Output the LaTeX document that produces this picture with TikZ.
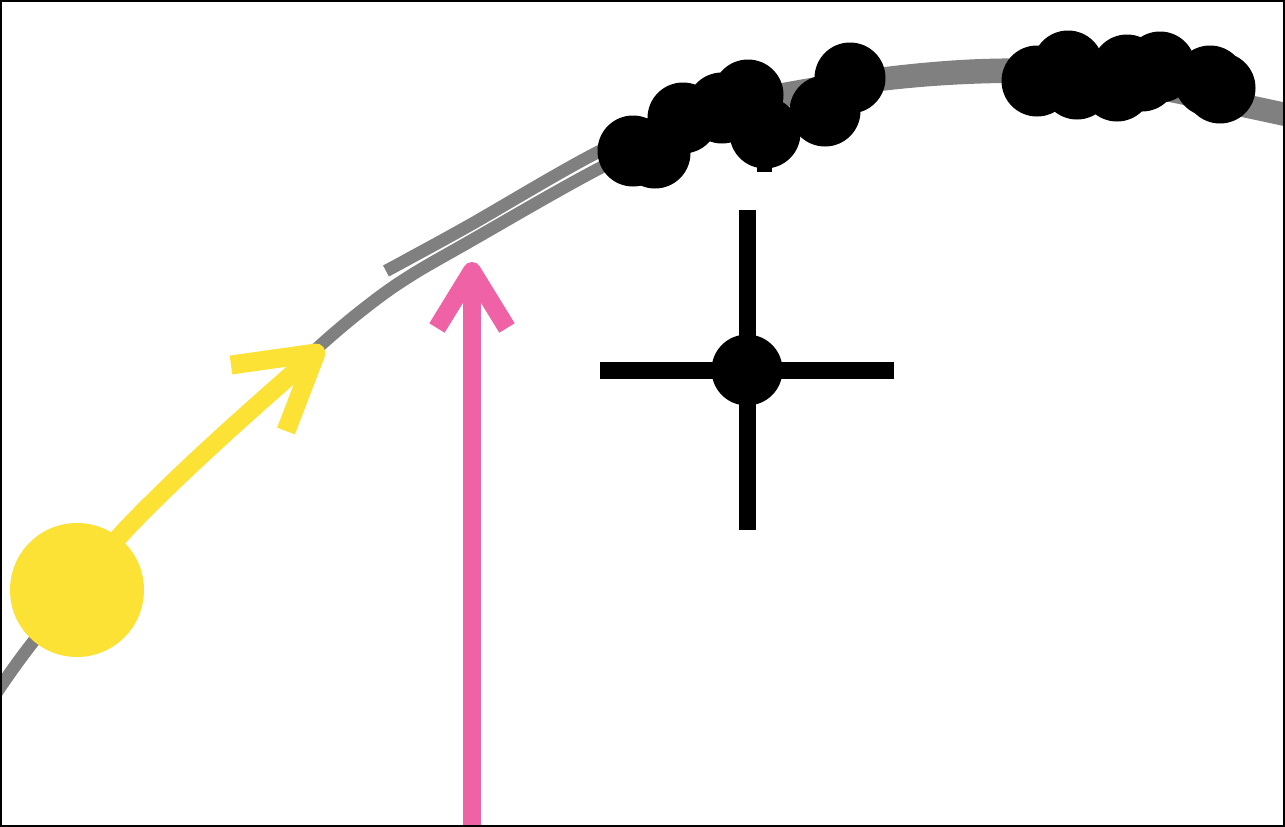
\documentclass[tikz,border=0pt]{standalone}
\usetikzlibrary{arrows.meta}
\definecolor{curvegray}{RGB}{128,128,128}
\definecolor{sunyellow}{RGB}{251,226,52}
\definecolor{hotpink}{RGB}{240,98,166}
\tikzset{
  curveline/.style={draw=curvegray, line width=12.5pt, line cap=butt},
  dotnode/.style={circle, fill=black, minimum size=71pt, inner sep=0pt},
  srcnode/.style={circle, fill=sunyellow, minimum size=134pt, inner sep=0pt},
  ybar/.style={draw=sunyellow, line width=18pt, line cap=butt},
  yhead/.style={draw=sunyellow, line width=19pt, line cap=butt, line join=round},
  pbar/.style={draw=hotpink, line width=18pt, line cap=butt},
  phead/.style={draw=hotpink, line width=18pt, line cap=butt, line join=round},
  crossbar/.style={draw=black, line width=17pt, line cap=butt},
  framebox/.style={draw=black, line width=2pt}
}
\begin{document}
\begin{tikzpicture}[x=1pt,y=-1pt]
\useasboundingbox (0,0) rectangle (1285,827);
\fill[white] (0,0) rectangle (1285,827);

% gray curves
\draw[curveline] plot[smooth, tension=0.6] coordinates {(-5,695) (33,642) (118,538) (167,489) (217,442) (267,396) (323,343) (370,304) (410,276) (467,243) (600,168) (700,122) (850,89) (990,77) (1100,83) (1290,121)};
\draw[curveline] plot[smooth, tension=0.6] coordinates {(386,271) (410,258) (470,225) (600,151) (700,108) (850,78) (990,65) (1100,72) (1290,110)};

% cluster 1 of dots
\node[dotnode] (a1) at (633,151) {};
\node[dotnode] (a2) at (655,153) {};
\node[dotnode] (a3) at (683,118) {};
\node[dotnode] (a4) at (722,108) {};
\node[dotnode] (a5) at (748,95) {};
\node[dotnode] (a6) at (765,133) {};
\node[dotnode] (a7) at (825,111) {};
\node[dotnode] (a8) at (850,78) {};
\coordinate (stemtop) at (764,140);
\coordinate (stemend) at (764,172);
\draw[draw=black, line width=15pt, line cap=butt] (stemtop) -- (stemend);

% cluster 2 of dots
\node[dotnode] (b1) at (1037,81) {};
\node[dotnode] (b2) at (1068,66) {};
\node[dotnode] (b3) at (1077,84) {};
\node[dotnode] (b4) at (1117,86) {};
\node[dotnode] (b5) at (1127,70) {};
\node[dotnode] (b6) at (1142,76) {};
\node[dotnode] (b7) at (1160,67) {};
\node[dotnode] (b8) at (1210,81) {};
\node[dotnode] (b9) at (1220,88) {};

% crosshair
\coordinate (hl) at (600,370);
\coordinate (hr) at (894,370);
\coordinate (vt) at (747,210);
\coordinate (vb) at (747,530);
\draw[crossbar] (hl) -- (hr);
\draw[crossbar] (vt) -- (vb);
\node[dotnode] (target) at (747,370) {};

% yellow source and arrow
\node[srcnode] (src) at (77,590) {};
\coordinate (ytip) at (316,353);
\coordinate (yarm1) at (231,365);
\coordinate (yarm2) at (286,431);
\draw[ybar] plot[smooth, tension=0.55] coordinates {(src.center) (118,538) (167,488) (217,441) (267,396) (ytip)};
\draw[yhead] (yarm1) -- (ytip) -- (yarm2);

% pink arrow
\coordinate (pbase) at (472,830);
\coordinate (ptip) at (472,271);
\coordinate (parm1) at (437,328);
\coordinate (parm2) at (507,328);
\draw[pbar] (pbase) -- (ptip);
\draw[phead] (parm1) -- (ptip) -- (parm2);

% frame
\draw[framebox] (1,1) rectangle (1284,826);
\end{tikzpicture}
\end{document}
